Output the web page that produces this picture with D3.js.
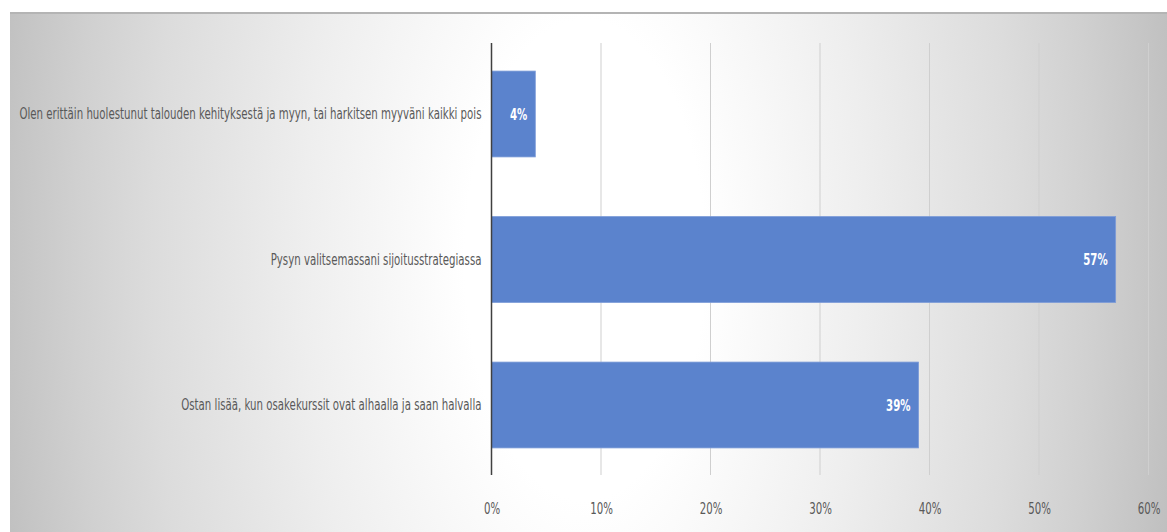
<!DOCTYPE html>
<html>
<head>
<meta charset="utf-8">
<script src="https://cdn.jsdelivr.net/npm/d3@7"></script>
<style>
  html, body { margin: 0; padding: 0; background: #ffffff; }
  svg { display: block; }
  text { font-family: "DejaVu Sans Condensed", "Liberation Sans", sans-serif; }
</style>
</head>
<body>
<svg id="chart" width="1167" height="532"></svg>
<script>
// Survey answers (top to bottom) and their shares in percent
const categories = [
  "Olen erittäin huolestunut talouden kehityksestä ja myyn, tai harkitsen myyväni kaikki pois",
  "Pysyn valitsemassani sijoitusstrategiassa",
  "Ostan lisää, kun osakekurssit ovat alhaalla ja saan halvalla"
];
const values = [4, 57, 39];
const tickValues = [0, 10, 20, 30, 40, 50, 60];
const tickLabels = ["0%", "10%", "20%", "30%", "40%", "50%", "60%"];

const svg = d3.select("#chart");
const W = 1167, H = 532;
const SQUEEZE = 0.71; // narrow lettering

// Compress text horizontally while keeping its anchor point in place
function squeeze(sel) {
  sel.each(function () {
    const t = d3.select(this);
    const x0 = +(t.attr("x") || 0);
    t.attr("x", x0 / SQUEEZE).attr("transform", `scale(${SQUEEZE},1)`);
  });
}

// Background panel with a soft, mostly horizontal radial shading
const defs = svg.append("defs");
const grad = defs.append("radialGradient")
  .attr("id", "bg")
  .attr("gradientUnits", "userSpaceOnUse")
  .attr("cx", 585).attr("cy", 260).attr("r", 600)
  .attr("gradientTransform", "translate(585,260) scale(1,2) translate(-585,-260)");
[[0, "#ffffff"], [0.2, "#ffffff"], [0.47, "#eeeeee"], [0.72, "#dcdcdc"], [0.85, "#d0d0d0"], [0.95, "#c5c5c5"], [1, "#bfbfbf"]]
  .forEach(([o, c]) => grad.append("stop").attr("offset", o).attr("stop-color", c));

svg.append("rect")
  .attr("x", 10).attr("y", 12)
  .attr("width", W - 10).attr("height", H - 12)
  .attr("fill", "url(#bg)");
svg.append("line")
  .attr("x1", 10).attr("x2", W)
  .attr("y1", 13).attr("y2", 13)
  .attr("stroke", "#b4b4b4").attr("stroke-width", 2);

const plot = { left: 491.5, right: 1148.5, top: 41.25, bottom: 477.75 };

const x = d3.scaleLinear().domain([0, 60]).range([plot.left, plot.right]);
const y = d3.scaleBand().domain(categories).range([plot.top, plot.bottom]).paddingInner(0.41).paddingOuter(0.205);

// Vertical gridlines
svg.append("g")
  .selectAll("line")
  .data(tickValues.slice(1))
  .join("line")
  .attr("x1", d => x(d)).attr("x2", d => x(d))
  .attr("y1", 43).attr("y2", 475)
  .attr("stroke", "#cfcfcf").attr("stroke-width", 1);

// Bars
svg.append("g")
  .selectAll("rect")
  .data(values)
  .join("rect")
  .attr("x", x(0))
  .attr("y", (d, i) => y(categories[i]))
  .attr("width", d => x(d) - x(0))
  .attr("height", y.bandwidth())
  .attr("fill", "#5b83cd")
  .attr("stroke", "#7c9bd8").attr("stroke-width", 0.8);

// Value labels inside the bar ends
svg.append("g")
  .selectAll("text")
  .data(values)
  .join("text")
  .attr("x", d => x(d) - 8)
  .attr("y", (d, i) => y(categories[i]) + y.bandwidth() / 2)
  .attr("dy", "0.35em")
  .attr("text-anchor", "end")
  .attr("fill", "#ffffff")
  .attr("font-weight", "bold")
  .attr("font-size", 16)
  .text(d => d + "%")
  .call(squeeze);

// Category axis (left)
const yAxis = d3.axisLeft(y).tickSize(0).tickPadding(10);
const gy = svg.append("g").attr("transform", `translate(${plot.left},0)`).call(yAxis);
gy.select(".domain").remove();
gy.selectAll("text")
  .attr("fill", "#595959")
  .attr("font-size", 16)
  .call(squeeze);

svg.append("line")
  .attr("x1", plot.left).attr("x2", plot.left)
  .attr("y1", 43).attr("y2", 475)
  .attr("stroke", "#404040").attr("stroke-width", 1.5);

// Value axis (bottom)
const xAxis = d3.axisBottom(x).tickValues(tickValues)
  .tickFormat((d, i) => tickLabels[i]).tickSize(0).tickPadding(0);
const gx = svg.append("g").attr("transform", `translate(0,${503})`).call(xAxis);
gx.select(".domain").remove();
gx.selectAll("text")
  .attr("fill", "#595959")
  .attr("font-size", 16)
  .call(squeeze);
</script>
</body>
</html>
